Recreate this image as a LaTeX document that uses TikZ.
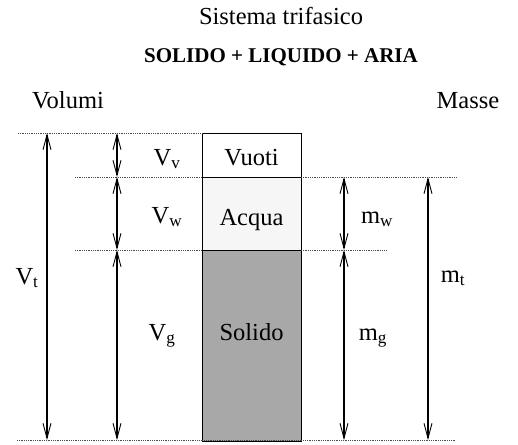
\documentclass[tikz,border=0pt]{standalone}
\usepackage{fontspec}
\setmainfont{Liberation Serif}
\usetikzlibrary{arrows.meta}
\begin{document}
\begin{tikzpicture}[x=1pt,y=-1pt,
  lbl/.style={anchor=base,inner sep=0pt,font=\fontsize{24.5}{27}\selectfont},
  guide/.style={densely dotted,line width=0.8pt,black!70},
  dim/.style={line width=1.1pt,{Straight Barb[length=15pt,width=8pt,line width=0.9pt]}-{Straight Barb[length=15pt,width=8pt,line width=0.9pt]}},
  cell/.style={draw,line width=1pt}]
\useasboundingbox (0,0) rectangle (518,444);
% titles
\node[lbl,font=\fontsize{24.5}{27}\selectfont] (tit) at (281,25) {Sistema trifasico};
\node[lbl,font=\fontsize{21}{24}\selectfont\bfseries] (sub) at (281,62) {SOLIDO + LIQUIDO + ARIA};
\node[lbl] (volumi) at (68,108) {Volumi};
\node[lbl] (masse) at (468,108) {Masse};
% column
\draw[cell,fill=gray!7] (202,177) rectangle (301,250);
\draw[cell,fill=gray!68] (202,250) rectangle (301,441);
\draw[cell] (202,133) rectangle (301,177);
\node[lbl] (vuoti) at (251.5,165) {Vuoti};
\node[lbl] (acqua) at (251.5,225) {Acqua};
\node[lbl] (solido) at (251.5,340) {Solido};
% guide lines
\coordinate (gT1) at (18,133);  \coordinate (gT2) at (202,133);
\coordinate (gA1) at (75,177);  \coordinate (gA2) at (202,177);
\coordinate (gA3) at (301,177); \coordinate (gA4) at (457,177);
\coordinate (gS1) at (75,250);  \coordinate (gS2) at (202,250);
\coordinate (gS3) at (301,250); \coordinate (gS4) at (386,250);
\coordinate (gB1) at (17,440);  \coordinate (gB2) at (455,440);
\draw[guide] (gT1) -- (gT2);
\draw[guide] (gA1) -- (gA2);
\draw[guide] (gA3) -- (gA4);
\draw[guide] (gS1) -- (gS2);
\draw[guide] (gS3) -- (gS4);
\draw[guide] (gB1) -- (gB2);
% dimension coordinates
\coordinate (vt1) at (47,133); \coordinate (vt2) at (47,440);
\coordinate (v1) at (117,133); \coordinate (v2) at (117,177);
\coordinate (v3) at (117,250); \coordinate (v4) at (117,440);
\coordinate (m2) at (344,177); \coordinate (m3) at (344,250); \coordinate (m4) at (344,440);
\coordinate (mt2) at (428,177); \coordinate (mt4) at (428,440);
\draw[dim] (vt1) -- (vt2);
\draw[dim] (v1) -- (v2);
\draw[dim] (v2) -- (v3);
\draw[dim] (v3) -- (v4);
\draw[dim] (m2) -- (m3);
\draw[dim] (m3) -- (m4);
\draw[dim] (mt2) -- (mt4);
% labels
\node[lbl] (Vv) at (167,165) {V\textsubscript{v}};
\node[lbl] (Vw) at (167,223) {V\textsubscript{w}};
\node[lbl] (Vt) at (27,284) {V\textsubscript{t}};
\node[lbl] (Vg) at (162,340) {V\textsubscript{g}};
\node[lbl] (mw) at (377,223) {m\textsubscript{w}};
\node[lbl] (mg) at (373,340) {m\textsubscript{g}};
\node[lbl] (mt) at (453,282) {m\textsubscript{t}};
\end{tikzpicture}
\end{document}
